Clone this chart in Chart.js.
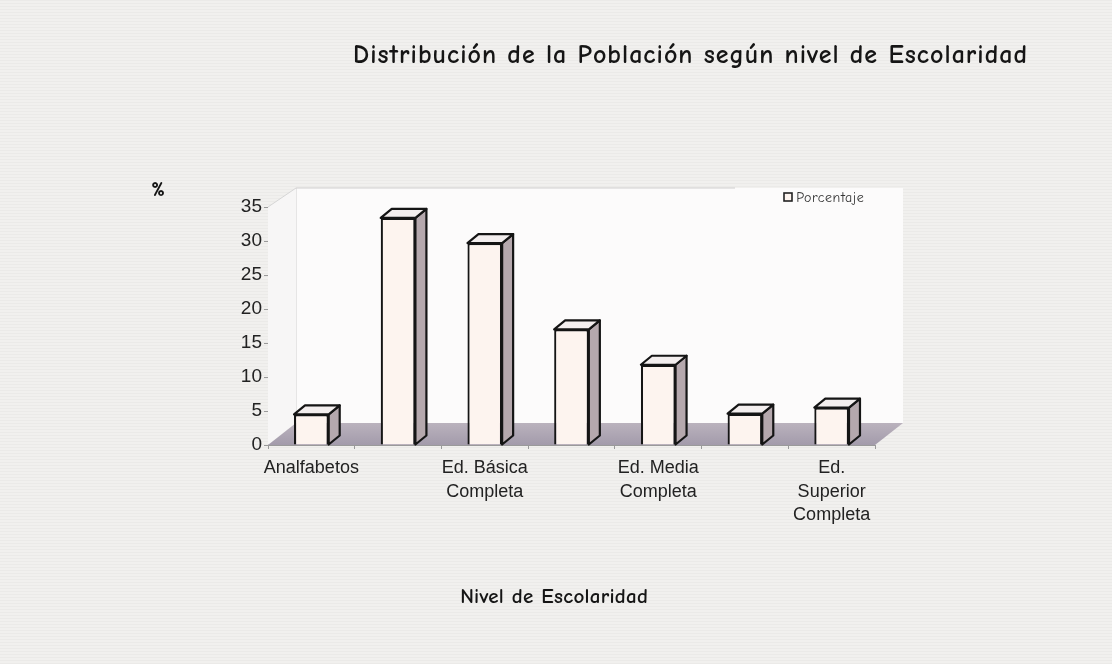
<!DOCTYPE html>
<html>
<head>
<meta charset="utf-8">
<script src="https://cdn.jsdelivr.net/npm/chart.js@4/dist/chart.umd.min.js"></script>
<style>
  html, body { margin: 0; padding: 0; background: #f1f0ee; }
  #wrap { width: 1112px; height: 664px; }
</style>
</head>
<body>
<div id="wrap"><canvas id="myChart" width="1112" height="664"></canvas></div>
<script>
// datos
const categorias = ['Analfabetos', 'Ed. Básica Incompleta', 'Ed. Básica Completa', 'Ed. Media Incompleta',
                    'Ed. Media Completa', 'Ed. Superior Incompleta', 'Ed. Superior Completa'];
const etiquetasEje = ['Analfabetos', '', ['Ed. Básica', 'Completa'], '', ['Ed. Media', 'Completa'], '',
                      ['Ed.', 'Superior', 'Completa']];
const porcentaje = [4.5, 33.4, 29.7, 17.0, 11.8, 4.6, 5.5];
const ticksY = [0, 5, 10, 15, 20, 25, 30, 35];

const titulo = 'Distribución de la Población según nivel de Escolaridad';
const tituloX = 'Nivel de Escolaridad';
const tituloY = '%';
const nombreSerie = 'Porcentaje';

const comic = "'Comic Sans MS', 'Comic Neue', 'DejaVu Sans', sans-serif";

// write text stretched to a given width (the comic font here is narrower than the original)
function textoAncho(c, txt, x, y, ancho) {
  c.letterSpacing = '0px'
  const w = c.measureText(txt).width
  const sp = Math.max(0, (ancho - w) / txt.length)
  c.letterSpacing = sp + 'px'
  c.fillText(txt, x + sp / 2, y)
  c.letterSpacing = '0px'
}

// 3d look: walls, floor, bar sides
const efecto3d = {
  id: 'efecto3d',
  beforeDraw(chart) {
    const c = chart.ctx
    c.save()
    c.fillStyle = '#f1f0ee'
    c.fillRect(0, 0, chart.width, chart.height)
    // faint scan lines like the scanned page
    c.strokeStyle = 'rgba(0,0,0,0.025)'
    c.lineWidth = 1
    for (let y = 0.5; y < chart.height; y += 3) {
      c.beginPath(); c.moveTo(0, y); c.lineTo(chart.width, y); c.stroke()
    }
    c.restore()
  },
  beforeDatasetsDraw(chart) {
    const c = chart.ctx
    const a = chart.chartArea
    const dx = 28, dy = -22
    c.save()
    // back wall
    c.fillStyle = '#fcfbfb'
    c.fillRect(a.left + dx, a.top - 19, a.right - a.left, a.bottom + dy - a.top + 19)
    c.strokeStyle = '#cfcfcf'
    c.lineWidth = 1
    c.beginPath()
    c.moveTo(a.left + dx, a.bottom + dy)
    c.lineTo(a.left + dx, a.top - 19)
    c.lineTo(a.right - 140, a.top - 19)
    c.stroke()
    // side wall
    c.fillStyle = '#f7f6f6'
    c.beginPath()
    c.moveTo(a.left, a.top)
    c.lineTo(a.left + dx, a.top - 19)
    c.lineTo(a.left + dx, a.bottom + dy)
    c.lineTo(a.left, a.bottom)
    c.closePath()
    c.fill()
    c.strokeStyle = '#d6d6d6'
    c.beginPath(); c.moveTo(a.left, a.top); c.lineTo(a.left + dx, a.top - 19); c.stroke()
    // floor
    const g = c.createLinearGradient(0, a.bottom + dy, 0, a.bottom)
    g.addColorStop(0, '#bab2bd')
    g.addColorStop(1, '#a39bab')
    c.fillStyle = g
    c.beginPath()
    c.moveTo(a.left, a.bottom)
    c.lineTo(a.left + dx, a.bottom + dy)
    c.lineTo(a.right + dx, a.bottom + dy)
    c.lineTo(a.right, a.bottom)
    c.closePath()
    c.fill()
    c.restore()
  },
  afterDatasetsDraw(chart) {
    const c = chart.ctx
    const meta = chart.getDatasetMeta(0)
    const dx = 11, dy = -9
    c.save()
    c.lineWidth = 2.2
    c.strokeStyle = '#151515'
    c.lineJoin = 'round'
    meta.data.forEach(bar => {
      const p = bar.getProps(['x', 'y', 'base', 'width'], true)
      const l = p.x - p.width / 2, r = p.x + p.width / 2
      // side
      c.fillStyle = '#b5a8ad'
      c.beginPath()
      c.moveTo(r, p.y); c.lineTo(r + dx, p.y + dy); c.lineTo(r + dx, p.base + dy); c.lineTo(r, p.base)
      c.closePath(); c.fill(); c.stroke()
      // top
      c.fillStyle = '#f3eeee'
      c.beginPath()
      c.moveTo(l, p.y); c.lineTo(l + dx, p.y + dy); c.lineTo(r + dx, p.y + dy); c.lineTo(r, p.y)
      c.closePath(); c.fill(); c.stroke()
    })
    c.restore()
  },
  afterDraw(chart) {
    const c = chart.ctx
    c.save()
    c.fillStyle = '#151515'
    c.textAlign = 'center'
    c.textBaseline = 'middle'
    c.font = 'bold 26px ' + comic
    textoAncho(c, titulo, 690, 56, 675)
    c.font = 'bold 21px ' + comic
    textoAncho(c, tituloX, 554, 597, 188)
    c.font = 'bold 20px ' + comic
    c.fillText(tituloY, 158, 190)
    // legend
    c.lineWidth = 1.6
    c.strokeStyle = '#222'
    c.fillStyle = '#fdf4ef'
    c.fillRect(784, 193, 8, 8)
    c.strokeRect(784, 193, 8, 8)
    c.fillStyle = '#333'
    c.textAlign = 'left'
    c.font = '14px ' + comic
    textoAncho(c, nombreSerie, 796, 198, 68)
    c.restore()
  }
}

var ctx = document.getElementById('myChart');

var myChart = new Chart(ctx, {
  type: 'bar',
  data: {
    labels: categorias,
    datasets: [{
      label: nombreSerie,
      data: porcentaje,
      backgroundColor: '#fdf4ef',
      borderColor: '#151515',
      borderWidth: 2.2,
      categoryPercentage: 1,
      barPercentage: 0.4
    }]
  },
  options: {
    responsive: false,
    animation: false,
    layout: { padding: { left: 220, right: 237, top: 207, bottom: 120 } },
    plugins: {
      legend: { display: false },
      tooltip: { enabled: false }
    },
    scales: {
      x: {
        grid: { drawOnChartArea: false, color: '#9a9a9a', tickLength: 4, offset: true },
        border: { color: '#9a9a9a' },
        afterFit: scale => { scale.height = 99 },
        ticks: {
          autoSkip: false,
          maxRotation: 0,
          padding: 8,
          color: '#222',
          font: { family: "'Liberation Sans', Arial, sans-serif", size: 18, lineHeight: 1.28 },
          callback: (v, i) => etiquetasEje[i]
        }
      },
      y: {
        min: 0,
        max: 35,
        afterBuildTicks: scale => { scale.ticks = ticksY.map(v => ({ value: v })) },
        afterFit: scale => { scale.width = 48 },
        grid: { drawOnChartArea: false, color: '#9a9a9a', tickLength: 4 },
        border: { color: '#9a9a9a' },
        ticks: {
          padding: 2,
          color: '#222',
          font: { family: "'Liberation Sans', Arial, sans-serif", size: 19 }
        }
      }
    }
  },
  plugins: [efecto3d]
});
</script>
</body>
</html>
